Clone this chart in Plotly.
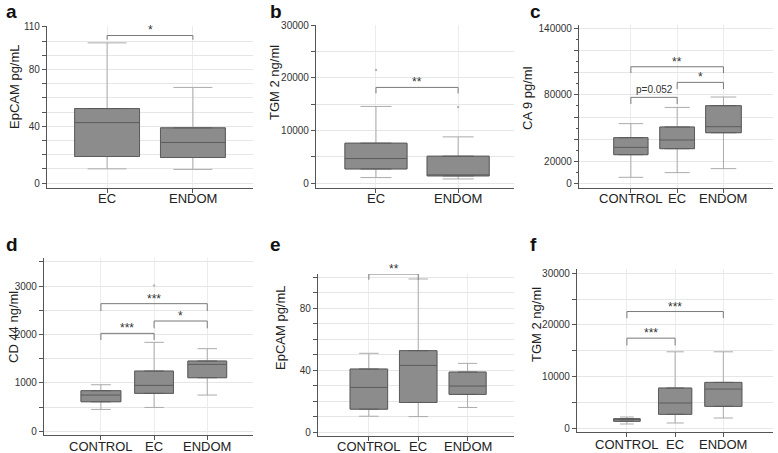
import plotly.graph_objects as go

# ---------------- data ----------------
A_CATS = ["EC", "ENDOM"]
A_LOW = [10, 9.6]
A_Q1 = [18.7, 18.0]
A_MED = [42.6, 28.6]
A_Q3 = [52.5, 38.9]
A_HIGH = [98.8, 67.4]
A_SIG = [("EC", "ENDOM", 104, 101, "*")]

B_CATS = ["EC", "ENDOM"]
B_LOW = [1080, 820]
B_Q1 = [2720, 1400]
B_MED = [4690, 1550]
B_Q3 = [7610, 5140]
B_HIGH = [14590, 8810]
B_OUT_X = ["EC", "ENDOM"]
B_OUT_Y = [21500, 14500]
B_SIG = [("EC", "ENDOM", 18200, 17060, "**")]

C_CATS = ["CONTROL", "EC", "ENDOM"]
C_LOW = [5430, 9650, 13260]
C_Q1 = [25900, 31350, 45800]
C_MED = [32560, 39200, 51250]
C_Q3 = [41300, 50950, 70250]
C_HIGH = [54000, 68700, 78100]
C_SIG = [("CONTROL", "EC", 77800, 71750, "p=0.052"),
         ("EC", "ENDOM", 91350, 85300, "*"),
         ("CONTROL", "ENDOM", 105500, 99800, "**")]

D_CATS = ["CONTROL", "EC", "ENDOM"]
D_LOW = [454, 495, 750]
D_Q1 = [612, 785, 1108]
D_MED = [750, 950, 1383]
D_Q3 = [840, 1245, 1452]
D_HIGH = [963, 1838, 1707]
D_OUT_X = ["EC"]
D_OUT_Y = [3013]
D_SIG = [("CONTROL", "EC", 2023, 1886, "***"),
         ("EC", "ENDOM", 2278, 2127, "*"),
         ("CONTROL", "ENDOM", 2636, 2484, "***")]

E_CATS = ["CONTROL", "EC", "ENDOM"]
E_LOW = [10.35, 10.1, 16.0]
E_Q1 = [14.9, 19.2, 24.4]
E_MED = [28.9, 43.1, 29.8]
E_Q3 = [40.75, 52.6, 38.8]
E_HIGH = [50.9, 98.8, 44.4]
E_SIG = [("CONTROL", "EC", 102, 98.3, "**")]

F_CATS = ["CONTROL", "EC", "ENDOM"]
F_LOW = [837, 1030, 1996]
F_Q1 = [1352, 2704, 4249]
F_MED = [1674, 4893, 7597]
F_Q3 = [1867, 7790, 8884]
F_HIGH = [2190, 14807, 14807]
F_SIG = [("CONTROL", "EC", 17447, 16030, "***"),
         ("CONTROL", "ENDOM", 22597, 21310, "***")]

A_TICKS = list(range(0, 111, 10)); A_LABELS = ["0", "40", "80", "110"]
B_TICKS = list(range(0, 30001, 5000)); B_LABELS = ["0", "10000", "20000", "30000"]
C_TICKS = list(range(0, 140001, 20000)); C_LABELS = ["0", "20000", "80000", "140000"]
D_TICKS = list(range(0, 3501, 500)); D_LABELS = ["0", "1000", "2000", "3000"]
E_TICKS = list(range(0, 101, 10)); E_LABELS = ["0", "40", "80"]
F_TICKS = list(range(0, 30001, 5000)); F_LABELS = ["0", "10000", "20000", "30000"]

W, H = 778, 453
FONT = "Liberation Sans, Arial, sans-serif"

fig = go.Figure()
shapes = []
annotations = []
layout = {}


def px_x(v):
    return v / W


def px_y(v):
    return 1 - v / H


def panel(idx, cats, lo, q1, med, q3, hi, sig, ticks, labels, xpx, ypx, xr, yr,
          ytitle, ytx, yty, letter, lxy, widths, whisk, minor=None, outx=None, outy=None,
          labgap=11):
    xa = "x" if idx == 1 else f"x{idx}"
    ya = "y" if idx == 1 else f"y{idx}"
    for i, c in enumerate(cats):
        common = dict(x=[c], q1=[q1[i]], median=[med[i]], q3=[q3[i]],
                      xaxis=xa, yaxis=ya, showlegend=False, boxpoints=False,
                      width=widths[i], whiskerwidth=whisk, hoverinfo="skip",
                      fillcolor="#8c8c8c")
        fig.add_trace(go.Box(lowerfence=[lo[i]], upperfence=[hi[i]],
                             line=dict(color="#ababab", width=1), **common))
        fig.add_trace(go.Box(lowerfence=[q1[i]], upperfence=[q3[i]],
                             line=dict(color="#5c5c5c", width=1), **common))
    if outx:
        fig.add_trace(go.Scatter(x=outx, y=outy, mode="markers", xaxis=xa, yaxis=ya,
                                 marker=dict(size=2.5, color="#b8b8b8"),
                                 showlegend=False, hoverinfo="skip"))
    text = [str(t) if str(t) in labels else "" for t in ticks]
    ykey = "yaxis" if idx == 1 else f"yaxis{idx}"
    xkey = "xaxis" if idx == 1 else f"xaxis{idx}"
    ycfg = dict(domain=[px_y(ypx[1]), px_y(ypx[0])], range=yr, anchor=xa,
                automargin=False,
                tickmode="array", tickvals=ticks, ticktext=text,
                showline=True, linecolor="#555555", linewidth=1.2,
                ticks="outside", ticklen=4, tickcolor="#555555",
                showgrid=True, gridcolor="#e6e6e6", gridwidth=1, zeroline=False,
                tickfont=dict(size=10, color="#333333", family=FONT))
    if minor:
        ycfg["minor"] = dict(dtick=minor, tick0=0, ticks="outside", ticklen=2,
                             tickcolor="#555555", showgrid=False)
    layout[ykey] = ycfg
    layout[xkey] = dict(domain=[px_x(xpx[0]), px_x(xpx[1])], range=xr, anchor=ya,
                        automargin=False,
                        type="category", categoryorder="array", categoryarray=cats,
                        showline=True, linecolor="#555555", linewidth=1.2,
                        ticks="outside", ticklen=4, tickcolor="#555555",
                        showticklabels=False,
                        showgrid=True, gridcolor="#ececec", zeroline=False)
    # category labels placed just under the axis
    for i, c in enumerate(cats):
        annotations.append(dict(x=i, y=px_y(ypx[1] + labgap), xref=xa, yref="paper",
                                text=c, showarrow=False, xanchor="center",
                                yanchor="middle",
                                font=dict(size=13, color="#222222", family=FONT)))
    for (c1, c2, ytop, yleg, lab) in sig:
        i1, i2 = cats.index(c1), cats.index(c2)
        shapes.append(dict(type="path", xref=xa, yref=ya,
                           path=f"M {i1},{yleg} L {i1},{ytop} L {i2},{ytop} L {i2},{yleg}",
                           line=dict(color="#7a7a7a", width=1)))
        star = lab.startswith("*")
        annotations.append(dict(x=(i1 + i2) / 2, y=ytop, xref=xa, yref=ya, text=lab,
                                showarrow=False, yanchor="bottom",
                                yshift=-4 if star else 0,
                                font=dict(size=12 if star else 10, color="#333333", family=FONT)))
    annotations.append(dict(x=px_x(ytx), y=px_y(yty), xref="paper", yref="paper",
                            text=ytitle, textangle=-90, showarrow=False,
                            xanchor="center", yanchor="middle",
                            font=dict(size=13, color="#222222", family=FONT)))
    annotations.append(dict(x=px_x(lxy[0]), y=px_y(lxy[1]), xref="paper", yref="paper",
                            text=f"<b>{letter}</b>", showarrow=False,
                            xanchor="center", yanchor="middle",
                            font=dict(size=19, color="#111111", family=FONT)))


panel(1, A_CATS, A_LOW, A_Q1, A_MED, A_Q3, A_HIGH, A_SIG, A_TICKS, A_LABELS,
      (47, 253), (26, 188), [-0.70, 1.70], [-3.5, 110.7],
      "EpCAM pg/mL", 15, 87, "a", (11, 11), [0.756, 0.756], 0.6, labgap=10.5)
panel(2, B_CATS, B_LOW, B_Q1, B_MED, B_Q3, B_HIGH, B_SIG, B_TICKS, B_LABELS,
      (316, 514), (25, 188), [-0.73, 1.68], [-900, 30050],
      "TGM 2 ng/ml", 274, 83, "b", (276, 11), [0.756, 0.756], 0.5,
      outx=B_OUT_X, outy=B_OUT_Y, labgap=10.5)
panel(3, C_CATS, C_LOW, C_Q1, C_MED, C_Q3, C_HIGH, C_SIG, C_TICKS, C_LABELS,
      (579, 773), (25, 188), [-1.12, 3.07], [-4260, 143300],
      "CA 9 pg/ml", 527, 98, "c", (535, 11), [0.74, 0.75, 0.77], 0.72, minor=10000,
      labgap=10.5)
panel(4, D_CATS, D_LOW, D_Q1, D_MED, D_Q3, D_HIGH, D_SIG, D_TICKS, D_LABELS,
      (44, 253), (258, 435), [-1.07, 2.86], [-74, 3578],
      "CD 44 ng/ml", 13, 327, "d", (12, 244), [0.75, 0.73, 0.73], 0.5,
      outx=D_OUT_X, outy=D_OUT_Y, labgap=11)
panel(5, E_CATS, E_LOW, E_Q1, E_MED, E_Q3, E_HIGH, E_SIG, E_TICKS, E_LABELS,
      (318, 514), (274, 436), [-1.03, 2.94], [-2.4, 102],
      "EpCAM pg/mL", 280, 328, "e", (275, 244), [0.76, 0.76, 0.75], 0.52, labgap=10)
panel(6, F_CATS, F_LOW, F_Q1, F_MED, F_Q3, F_HIGH, F_SIG, F_TICKS, F_LABELS,
      (577, 773), (269, 432), [-1.035, 3.03], [-714, 30830],
      "TGM 2 ng/ml", 536, 325, "f", (533, 244), [0.55, 0.69, 0.77], 0.52, labgap=12.5)

fig.update_layout(width=W, height=H, margin=dict(l=0, r=0, t=0, b=0, autoexpand=False),
                  paper_bgcolor="white", plot_bgcolor="white",
                  boxmode="overlay", shapes=shapes, annotations=annotations,
                  font=dict(family=FONT), **layout)

fig.write_html("out.html", config={"displayModeBar": False},
               post_script="document.body.style.margin='0';document.body.style.overflow='hidden';")
